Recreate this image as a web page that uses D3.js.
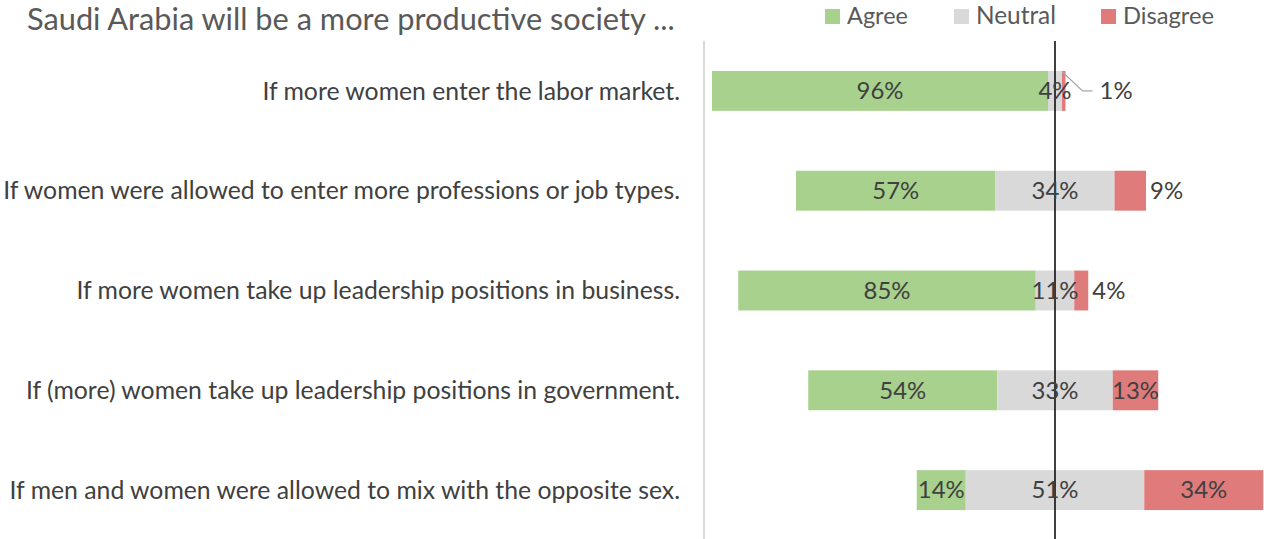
<!DOCTYPE html>
<html><head><meta charset="utf-8">
<script src="https://cdn.jsdelivr.net/npm/d3@7"></script>
<style>body{margin:0;background:#fff}svg{display:block}text{font-family:Lato,"Open Sans",sans-serif}</style>
</head><body>
<svg id="c" width="1264" height="539"></svg>
<script>
const title = "Saudi Arabia will be a more productive society ...";
const categories = [
  "If more women enter the labor market.",
  "If women were allowed to enter more professions or job types.",
  "If more women take up leadership positions in business.",
  "If (more) women take up leadership positions in government.",
  "If men and women were allowed to mix with the opposite sex."
];
const agree = [96, 57, 85, 54, 14];
const neutral = [4, 34, 11, 33, 51];
const disagree = [1, 9, 4, 13, 34];
const seriesNames = ["Agree", "Neutral", "Disagree"];
const colors = ["#A9D18E", "#D9D9D9", "#E07B7B"];

const svg = d3.select("#c");
const x = d3.scaleLinear().domain([-100, 60]).range([705, 1265]);
const y = d3.scaleBand().domain(categories).range([41, 540]).paddingInner(0.6).paddingOuter(0.3);

function fit(sel, w) {
  const n = sel.node();
  const fs = parseFloat(sel.attr("font-size"));
  const m = n.getComputedTextLength();
  sel.attr("font-size", fs * w / m);
}

// title
svg.append("text").attr("x", 27).attr("y", 30).attr("font-size", 24).attr("fill", "#595959")
  .text(title).call(fit, 648);

// legend
const legX = [825, 954, 1101];
const legW = [61, 80, 91];
seriesNames.forEach((s, i) => {
  svg.append("rect").attr("x", legX[i]).attr("y", 9).attr("width", 15).attr("height", 15).attr("fill", colors[i]);
  svg.append("text").attr("x", legX[i] + 22).attr("y", 24).attr("font-size", 20).attr("fill", "#595959")
    .text(s).call(fit, legW[i]);
});

// axis lines
svg.append("line").attr("x1", 704).attr("x2", 704).attr("y1", 41).attr("y2", 539)
  .attr("stroke", "#D9D9D9").attr("stroke-width", 2);

// category labels
const catG = svg.append("g");
const catTexts = categories.map(c => catG.append("text").attr("x", 680).attr("y", y(c) + y.bandwidth() / 2)
  .attr("dy", "0.35em").attr("text-anchor", "end").attr("font-size", 20).attr("fill", "#404040").text(c));
{
  const m = catTexts[1].node().getComputedTextLength();
  const fs = 20 * 677 / m;
  catTexts.forEach(t => t.attr("font-size", fs));
}

const rows = categories.map((c, i) => ({ c, a: agree[i], n: neutral[i], d: disagree[i] }));
const g = svg.append("g");
rows.forEach((r, i) => {
  const yy = y(r.c), h = y.bandwidth();
  const segs = [
    [-r.n / 2 - r.a, -r.n / 2, r.a],
    [-r.n / 2, r.n / 2, r.n],
    [r.n / 2, r.n / 2 + r.d, r.d]
  ];
  segs.forEach((s, k) => {
    g.append("rect").attr("x", x(s[0])).attr("y", yy).attr("width", x(s[1]) - x(s[0])).attr("height", h)
      .attr("fill", colors[k]);
  });
});
// center line
svg.append("line").attr("x1", x(0)).attr("x2", x(0)).attr("y1", 41).attr("y2", 539)
  .attr("stroke", "#000").attr("stroke-width", 1.5);

const lbl = svg.append("g").attr("font-size", 20).attr("fill", "#404040");
let labelFS = 20;
rows.forEach((r, i) => {
  const yy = y(r.c), h = y.bandwidth(), cy = yy + h / 2;
  const segs = [
    [-r.n / 2 - r.a, -r.n / 2, r.a],
    [-r.n / 2, r.n / 2, r.n],
    [r.n / 2, r.n / 2 + r.d, r.d]
  ];
  segs.forEach((s, k) => {
    const t = lbl.append("text").attr("y", cy).attr("dy", "0.35em").text(s[2] + "%");
    if (k === 2 && s[2] < 2) {
      const x0 = x(s[1]);
      svg.append("polyline").attr("points", [[x0 - 3, yy + 1], [x0 + 17, cy], [x0 + 27, cy]].map(p => p.join(",")).join(" "))
        .attr("fill", "none").attr("stroke", "#A6A6A6").attr("stroke-width", 1.2);
      t.attr("x", x0 + 34).attr("text-anchor", "start");
    } else if (k === 2 && s[2] < 10) {
      t.attr("x", x(s[1]) + 4).attr("text-anchor", "start");
    } else {
      t.attr("x", (x(s[0]) + x(s[1])) / 2).attr("text-anchor", "middle");
    }
    if (i === 0 && k === 0) {
      labelFS = 20 * 47 / t.node().getComputedTextLength();
    }
  });
});
lbl.attr("font-size", labelFS);
</script>
</body></html>
